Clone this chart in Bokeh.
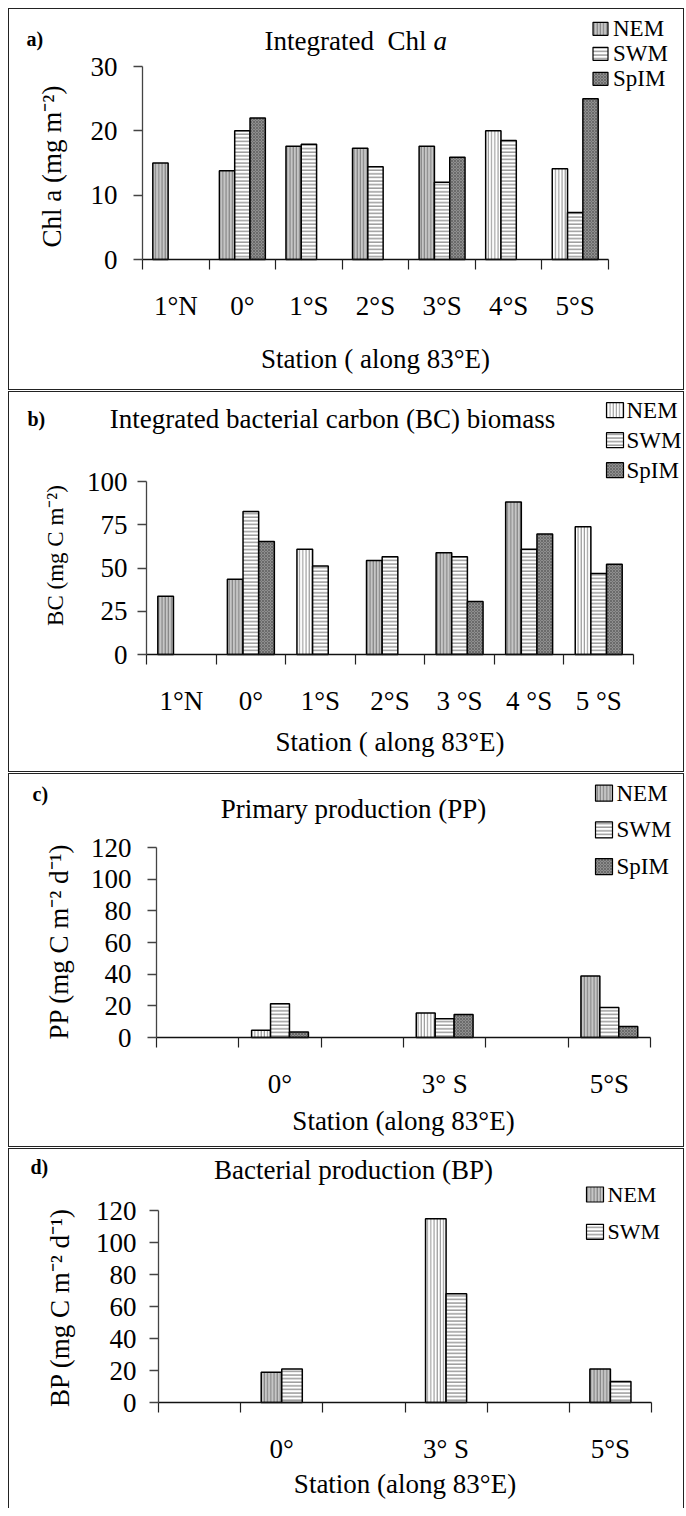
import numpy as np
from bokeh.plotting import figure
from bokeh.models import Range1d, FixedTicker, Label, ColumnDataSource
from bokeh.embed import file_html
from bokeh.resources import INLINE

FONT = "Liberation Serif"

# ---------------- data ----------------
# a) Integrated Chl a (mg m-2)
stations_a = ["1°N", "0°", "1°S", "2°S", "3°S", "4°S", "5°S"]
chl_nem = [15.0, 13.8, 17.6, 17.3, 17.6, 20.0, 14.1]
chl_swm = [None, 20.0, 17.9, 14.4, 12.0, 18.5, 7.3]
chl_spim = [None, 22.0, None, None, 15.9, None, 25.0]
chl_ticks = [0, 10, 20, 30]

# b) Integrated bacterial carbon biomass (mg C m-2)
stations_b = ["1°N", "0°", "1°S", "2°S", "3 °S", "4 °S", "5 °S"]
bc_nem = [33.7, 43.5, 60.9, 54.3, 58.8, 88.1, 73.8]
bc_swm = [None, 82.7, 51.1, 56.5, 56.5, 60.9, 46.8]
bc_spim = [None, 65.3, None, None, 30.6, 69.6, 52.2]
bc_ticks = [0, 25, 50, 75, 100]

# c) Primary production (mg C m-2 d-1)
stations_c = ["", "0°", "", "3° S", "", "5°S"]
pp_nem = [None, 4.6, None, 15.4, None, 38.9]
pp_swm = [None, 21.3, None, 11.8, None, 18.9]
pp_spim = [None, 3.4, None, 14.5, None, 6.9]
pp_ticks = [0, 20, 40, 60, 80, 100, 120]

# d) Bacterial production (mg C m-2 d-1)
stations_d = ["", "0°", "", "3° S", "", "5°S"]
bp_nem = [None, 18.9, None, 114.8, None, 21.0]
bp_swm = [None, 21.0, None, 68.0, None, 13.1]
bp_ticks = [0, 20, 40, 60, 80, 100, 120]

# ---------------- styles ----------------
nem_light_a = [False, False, False, False, False, True, True]
nem_light_b = [False, False, True, False, False, False, True]
nem_light_c = [False, True, False, True, False, False]
nem_light_d = [False, False, False, True, False, False]

STYLE = {
    "NEM_dark": dict(fill_color="#c6c6c6", hatch_pattern="|", hatch_color="#7a7a7a", hatch_scale=3.2, hatch_weight=1.0),
    "NEM_light": dict(fill_color="#ffffff", hatch_pattern="|", hatch_color="#8a8a8a", hatch_scale=3.2, hatch_weight=0.9),
    "SWM": dict(fill_color="#ffffff", hatch_pattern="-", hatch_color="#777777", hatch_scale=3.6, hatch_weight=1.1),
    "SpIM": dict(fill_color="#8f8f8f", hatch_pattern="x", hatch_color="#5c5c5c", hatch_scale=3.0, hatch_weight=0.7),
}

PANEL_W = 676


def tofloat(vals):
    return np.array([np.nan if v is None else v for v in vals], dtype=float)


def panel(geom, cats, series, light, yticks, ylabel, ylabel_size, ylabel_pos, xlabel, xlabel_y,
          bar_w, ytick_standoff, cat_standoff, tag, tag_pos, titles, leg, styles, margin):
    # geom: canvas height, plot-area left/right x pixel, pixel of y max, pixel of y = 0
    H, L, R, T, B, ymax = geom
    n = len(cats)
    ppx = (R - L) / n
    ppy = (B - T) / ymax
    p = figure(width=PANEL_W, height=H,
               x_range=Range1d(-L / ppx, n + (PANEL_W - R) / ppx),
               y_range=Range1d(-(H - B) / ppy, ymax + T / ppy),
               output_backend="svg", toolbar_location=None,
               min_border_left=0, min_border_right=0, min_border_top=0, min_border_bottom=0,
               background_fill_color="white", border_fill_color="white",
               styles=styles, margin=margin)
    p.outline_line_color = None
    p.xgrid.visible = False
    p.ygrid.visible = False

    def xd(cx):
        return (cx - L) / ppx

    def yd(cy):
        return (B - cy) / ppy

    centers = np.arange(n) + 0.5
    k = len(series)
    offsets = (np.arange(k) - (k - 1) / 2.0) * bar_w
    for i, (name, vals) in enumerate(series):
        x = centers + offsets[i]
        top_vals = tofloat(vals)
        if name == "NEM":
            fc = [STYLE["NEM_light" if l else "NEM_dark"]["fill_color"] for l in light]
            hc = [STYLE["NEM_light" if l else "NEM_dark"]["hatch_color"] for l in light]
            src = ColumnDataSource(dict(x=x, top=top_vals, fc=fc, hc=hc))
            p.vbar(x="x", top="top", bottom=0, width=bar_w, source=src,
                   fill_color="fc", hatch_color="hc", hatch_pattern="|",
                   hatch_scale=3.2, hatch_weight=1.0, line_color="black", line_width=1.5)
        else:
            src = ColumnDataSource(dict(x=x, top=top_vals))
            p.vbar(x="x", top="top", bottom=0, width=bar_w, source=src,
                   line_color="black", line_width=1.5, **STYLE[name])

        # legend entry: swatch + text
        key = name
        if name == "NEM":
            key = "NEM_light" if leg["nem_light"] else "NEM_dark"
        cy = leg["y0"] + i * leg["pitch"]
        p.rect(x=[xd(leg["x"] + leg["gw"] / 2.0)], y=[yd(cy)], width=leg["gw"], height=leg["gh"],
               width_units="screen", height_units="screen",
               line_color="black", line_width=1.2, **STYLE[key])
        p.add_layout(Label(x=xd(leg["x"] + leg["gw"] + leg["standoff"]), y=yd(cy), text=name,
                           text_font=FONT, text_font_size=leg["fs"], text_color="black",
                           text_align="left", text_baseline="middle"))

    # x axis: labels at category centres, tick marks between categories
    xa = p.xaxis[0]
    xa.fixed_location = 0
    xa.ticker = FixedTicker(ticks=list(centers), minor_ticks=list(np.arange(n + 1)))
    xa.major_label_overrides = {float(c): lab for c, lab in zip(centers, cats)}
    xa.bounds = (0, n)
    xa.major_tick_out = 0
    xa.major_tick_in = 0
    xa.minor_tick_out = 10
    xa.minor_tick_in = 0
    xa.minor_tick_line_color = "#222222"
    xa.minor_tick_line_width = 1.2
    xa.axis_line_color = "#111111"
    xa.axis_line_width = 1.5
    xa.major_label_text_font = FONT
    xa.major_label_text_font_size = "27px"
    xa.major_label_text_color = "black"
    xa.major_label_standoff = cat_standoff

    ya = p.yaxis[0]
    ya.fixed_location = 0
    ya.ticker = FixedTicker(ticks=yticks)
    ya.bounds = (0, ymax)
    ya.major_tick_out = 9
    ya.major_tick_in = 0
    ya.minor_tick_out = 0
    ya.minor_tick_in = 0
    ya.axis_line_color = "#444444"
    ya.axis_line_width = 1.3
    ya.major_tick_line_color = "#444444"
    ya.major_tick_line_width = 1.3
    ya.major_label_text_font = FONT
    ya.major_label_text_font_size = "27px"
    ya.major_label_text_color = "black"
    ya.major_label_standoff = ytick_standoff

    # axis titles
    p.add_layout(Label(x=n / 2.0, y=yd(xlabel_y), text=xlabel,
                       text_font=FONT, text_font_size="27px", text_color="black",
                       text_align="center", text_baseline="middle"))
    p.add_layout(Label(x=xd(ylabel_pos[0]), y=yd(ylabel_pos[1]), text=ylabel, angle=np.pi / 2,
                       text_font=FONT, text_font_size=ylabel_size, text_color="black",
                       text_align="center", text_baseline="middle"))
    # panel tag
    p.add_layout(Label(x=xd(tag_pos[0]), y=yd(tag_pos[1]), text=tag,
                       text_font=FONT, text_font_size="20px", text_font_style="bold",
                       text_align="left", text_baseline="middle", text_color="black"))
    # title pieces
    for (tx, ty, txt, style, align) in titles:
        p.add_layout(Label(x=xd(tx), y=yd(ty), text=txt, text_font=FONT, text_font_size="27px",
                           text_font_style=style, text_align=align, text_baseline="middle",
                           text_color="black"))
    return p


border = "1px solid #222222"

pa = panel((382, 133, 599, 57, 250, 30), stations_a,
           [("NEM", chl_nem), ("SWM", chl_swm), ("SpIM", chl_spim)], nem_light_a,
           chl_ticks, "Chl a (mg m\u207b\u00b2)", "27px", (42, 157), "Station ( along 83°E)", 349,
           0.23, 16, 21, "a)", (17, 29),
           [(255, 31, "Integrated\u00a0 Chl", "normal", "left"), (424, 31, "a", "italic", "left")],
           dict(x=583.5, y0=19.3, pitch=25, gw=15, gh=13, standoff=5, fs="23px", nem_light=False),
           {"border": border}, (8, 0, 0, 8))

pb = panel((381, 137, 624, 89, 262, 100), stations_b,
           [("NEM", bc_nem), ("SWM", bc_swm), ("SpIM", bc_spim)], nem_light_b,
           bc_ticks, "BC (mg C m\u207b\u00b2)", "23px", (46, 163), "Station ( along 83°E)", 349,
           0.225, 10, 21, "b)", (18, 26),
           [(323, 26, "Integrated bacterial carbon (BC) biomass", "normal", "center")],
           dict(x=597, y0=17.7, pitch=30, gw=17, gh=15, standoff=3, fs="23px", nem_light=True),
           {"border": border}, (1, 0, 0, 8))

pc = panel((374, 147, 641, 73, 263, 120), stations_c,
           [("NEM", pp_nem), ("SWM", pp_swm), ("SpIM", pp_spim)], nem_light_c,
           pp_ticks, "PP (mg C m\u207b\u00b2 d\u207b\u00b9)", "27px", (49, 167), "Station (along 83°E)", 346,
           0.23, 16, 21, "c)", (23, 19),
           [(344, 34, "Primary production (PP)", "normal", "center")],
           dict(x=586, y0=18.7, pitch=36.7, gw=17, gh=16, standoff=4, fs="23px", nem_light=False),
           {"border": border}, (1, 0, 0, 8))

pd_ = panel((360, 149, 642, 61, 253, 120), stations_d,
            [("NEM", bp_nem), ("SWM", bp_swm)], nem_light_d,
            bp_ticks, "BP (mg C m\u207b\u00b2 d\u207b\u00b9)", "27px", (50, 158), "Station (along 83°E)", 334,
            0.25, 13, 21, "d)", (21, 17),
            [(344, 20, "Bacterial production (BP)", "normal", "center")],
            dict(x=577, y0=45, pitch=37.3, gw=17, gh=15, standoff=4, fs="22px", nem_light=False),
            {"border-top": border, "border-left": border, "border-right": border}, (1, 0, 0, 8))

open("out.html", "w").write(file_html([pa, pb, pc, pd_], INLINE))
